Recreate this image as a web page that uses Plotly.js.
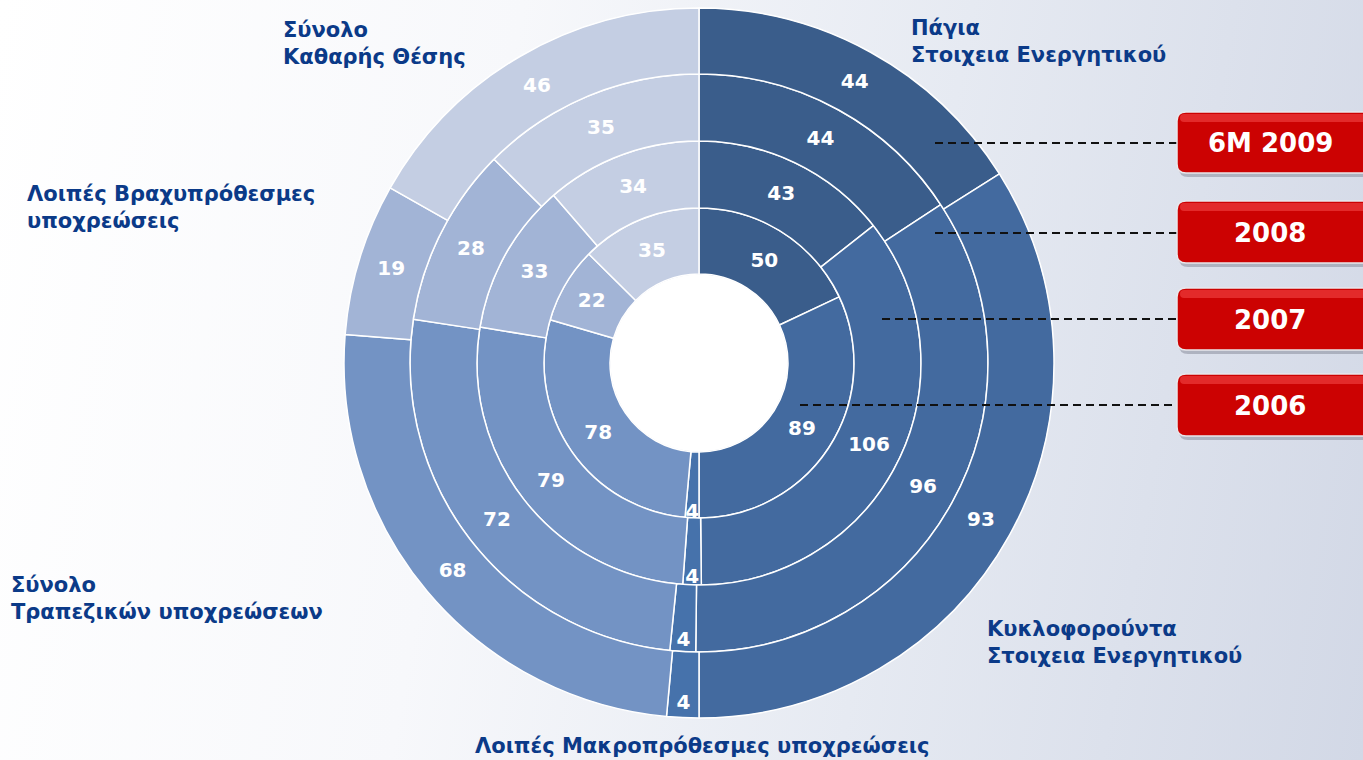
<!DOCTYPE html>
<html>
<head>
<meta charset="utf-8">
<script src="https://cdn.plot.ly/plotly-3.0.1.min.js"></script>
<style>
  html, body { margin:0; padding:0; width:1363px; height:760px; overflow:hidden; }
  body { background: linear-gradient(100deg, #ffffff 0%, #f7f8fb 35%, #e6eaf2 65%, #d2d8e6 100%); }
  #chart { width:1363px; height:760px; }
</style>
</head>
<body>
<div id="chart"></div>
<script>
// ---- data ----
const categories = [
  "Πάγια Στοιχεία Ενεργητικού",
  "Κυκλοφορούντα Στοιχεία Ενεργητικού",
  "Λοιπές Μακροπρόθεσμες υποχρεώσεις",
  "Σύνολο Τραπεζικών υποχρεώσεων",
  "Λοιπές Βραχυπρόθεσμες υποχρεώσεις",
  "Σύνολο Καθαρής Θέσης"
];
const periods = ["2006", "2007", "2008", "6M 2009"];
const values2006 = [50, 89, 4, 78, 22, 35];
const values2007 = [43, 106, 4, 79, 33, 34];
const values2008 = [44, 96, 4, 72, 28, 35];
const values6M2009 = [44, 93, 4, 68, 19, 46];
const seriesValues = [values2006, values2007, values2008, values6M2009];

// ---- style / layout ----
const W = 1363, H = 760;
const cx = 699, cy = 363;
const radii = [89, 155, 222, 289, 355]; // ring boundaries (px)
const sliceColors = ["#3a5d8b", "#436a9f", "#4672ab", "#7393c4", "#a2b4d6", "#c4cee3"];
const labelColor = "#0b3a88";
const fontFam = "DejaVu Sans, Verdana, sans-serif";

const traces = seriesValues.map((vals, i) => {
  const rIn = radii[i], rOut = radii[i + 1];
  return {
    type: "pie",
    name: periods[i],
    labels: categories,
    values: vals,
    sort: false,
    direction: "clockwise",
    rotation: 0,
    hole: rIn / rOut,
    domain: {
      x: [(cx - rOut) / W, (cx + rOut) / W],
      y: [(H - cy - rOut) / H, (H - cy + rOut) / H]
    },
    marker: { colors: sliceColors, line: { color: "#ffffff", width: 1.5 } },
    textinfo: "value",
    textposition: "inside",
    insidetextorientation: "horizontal",
    textfont: { family: fontFam, size: 20, color: "#ffffff", weight: 700 },
    hoverinfo: "label+value",
    showlegend: false
  };
});

function px2x(p) { return p / W; }
function px2y(p) { return 1 - p / H; }
function roundRect(x0, y0, x1, y1, r) {
  const X = px2x, Y = px2y;
  return `M${X(x0 + r)},${Y(y0)} L${X(x1 - r)},${Y(y0)} Q${X(x1)},${Y(y0)} ${X(x1)},${Y(y0 + r)} ` +
         `L${X(x1)},${Y(y1 - r)} Q${X(x1)},${Y(y1)} ${X(x1 - r)},${Y(y1)} L${X(x0 + r)},${Y(y1)} ` +
         `Q${X(x0)},${Y(y1)} ${X(x0)},${Y(y1 - r)} L${X(x0)},${Y(y0 + r)} Q${X(x0)},${Y(y0)} ${X(x0 + r)},${Y(y0)} Z`;
}

// red period boxes (outer ring first)
const boxes = [
  { label: "6M 2009", y0: 112, y1: 173, lineX: 935, lineY: 143 },
  { label: "2008", y0: 201, y1: 263, lineX: 935, lineY: 233 },
  { label: "2007", y0: 288, y1: 350, lineX: 882, lineY: 319 },
  { label: "2006", y0: 374, y1: 436, lineX: 800, lineY: 405 }
];

const shapes = [];
const annotations = [];

// hole circle
shapes.push({
  type: "circle", xref: "paper", yref: "paper", layer: "below",
  x0: px2x(cx - radii[0]), x1: px2x(cx + radii[0]),
  y0: px2y(cy + radii[0]), y1: px2y(cy - radii[0]),
  fillcolor: "#ffffff", line: { color: "#d0d4de", width: 1 }
});

boxes.forEach(b => {
  shapes.push({
    type: "line", xref: "paper", yref: "paper",
    x0: px2x(b.lineX), x1: px2x(1178), y0: px2y(b.lineY), y1: px2y(b.lineY),
    line: { color: "#111111", width: 2, dash: "8px,5px" }
  });
  shapes.push({
    type: "path", xref: "paper", yref: "paper",
    path: roundRect(1179, b.y0 + 3, 1375, b.y1 + 4, 9),
    fillcolor: "rgba(120,125,140,0.45)", line: { width: 0 }
  });
  shapes.push({
    type: "path", xref: "paper", yref: "paper",
    path: roundRect(1177, b.y0, 1375, b.y1, 9),
    fillcolor: "#cc0202", line: { color: "#e8e8ec", width: 1.5 }
  });
  shapes.push({
    type: "path", xref: "paper", yref: "paper",
    path: roundRect(1180, b.y0 + 2, 1372, b.y0 + 10, 4),
    fillcolor: "rgba(255,90,90,0.45)", line: { width: 0 }
  });
  annotations.push({
    xref: "paper", yref: "paper", x: px2x(1270), y: px2y((b.y0 + b.y1) / 2 + 1),
    xanchor: "center", yanchor: "middle", showarrow: false,
    text: "<b>" + b.label + "</b>",
    font: { family: fontFam, size: 26, color: "#ffffff" }
  });
});

// category labels
const catLabels = [
  { text: "Πάγια<br>Στοιχεια Ενεργητικού", x: 909, y: 42, anchor: "left" },
  { text: "Κυκλοφορούντα<br>Στοιχεια Ενεργητικού", x: 985, y: 642, anchor: "left" },
  { text: "Λοιπές Μακροπρόθεσμες υποχρεώσεις", x: 702, y: 746, anchor: "center" },
  { text: "Σύνολο<br>Τραπεζικών υποχρεώσεων", x: 9, y: 598, anchor: "left" },
  { text: "Λοιπές Βραχυπρόθεσμες<br>υποχρεώσεις", x: 25, y: 208, anchor: "left" },
  { text: "Σύνολο<br>Καθαρής Θέσης", x: 281, y: 43, anchor: "left" }
];
catLabels.forEach(c => {
  annotations.push({
    xref: "paper", yref: "paper", x: px2x(c.x), y: px2y(c.y),
    xanchor: c.anchor, yanchor: "middle", align: c.anchor, showarrow: false,
    text: "<b>" + c.text + "</b>",
    font: { family: fontFam, size: 21, color: labelColor }
  });
});

const layout = {
  width: W, height: H,
  margin: { l: 0, r: 0, t: 0, b: 0 },
  paper_bgcolor: "rgba(0,0,0,0)",
  plot_bgcolor: "rgba(0,0,0,0)",
  uniformtext: { minsize: 20, mode: "show" },
  shapes: shapes,
  annotations: annotations,
  showlegend: false
};

Plotly.newPlot("chart", traces, layout, { displayModeBar: false, staticPlot: true });
</script>
</body>
</html>
